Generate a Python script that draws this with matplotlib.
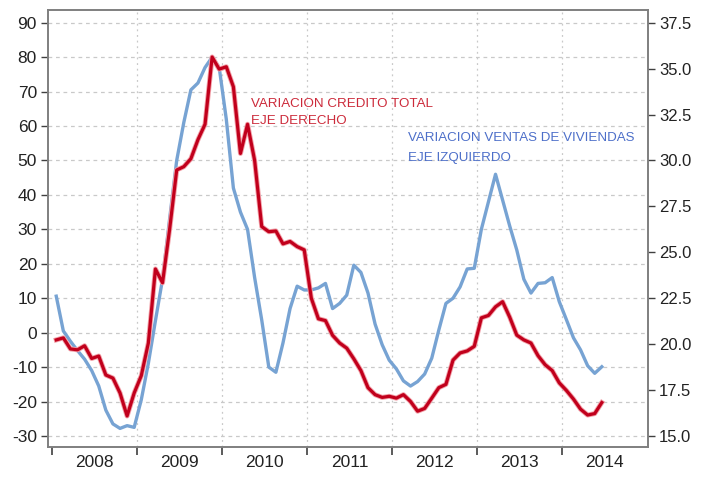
import numpy as np
import matplotlib
matplotlib.use("Agg")
import matplotlib.pyplot as plt
import matplotlib.patheffects as pe

plt.rcParams['font.family'] = ['Liberation Sans', 'DejaVu Sans']

# monthly data, first point early 2008
n_months = 78
ventas = [10.6, 0.5, -2.5, -5.2, -7.7, -11.0, -15.5, -22.5, -26.5, -27.8,
          -27.0, -27.5, -19.5, -8.9, 3.5, 15.5, 33.0, 50.0, 61.0, 70.5,
          72.5, 77.0, 80.0, 77.0, 62.0, 42.0, 35.0, 30.0, 16.0, 3.7,
          -10.0, -11.5, -3.0, 7.0, 13.5, 12.4, 12.4, 13.0, 14.3, 7.0,
          8.5, 10.9, 19.6, 17.5, 11.5, 2.5, -3.5, -8.0, -10.5, -14.0,
          -15.5, -14.2, -12.0, -7.4, 0.8, 8.5, 10.0, 13.3, 18.5, 18.7,
          30.0, 38.0, 46.0, 38.5, 31.0, 24.0, 15.5, 11.5, 14.3, 14.5,
          16.0, 9.0, 3.8, -1.5, -5.0, -9.6, -11.8, -9.9]
credito = [20.23, 20.34, 19.74, 19.69, 19.91, 19.22, 19.35, 18.32, 18.15, 17.34,
           16.09, 17.34, 18.28, 20.06, 24.09, 23.34, 26.25, 29.48, 29.66, 30.09,
           31.13, 31.97, 35.63, 34.97, 35.10, 34.01, 30.38, 31.97, 30.00, 26.40,
           26.12, 26.16, 25.46, 25.59, 25.31, 25.13, 22.50, 21.38, 21.28, 20.48,
           20.06, 19.78, 19.20, 18.56, 17.63, 17.25, 17.10, 17.16, 17.06, 17.25,
           16.88, 16.35, 16.50, 17.06, 17.63, 17.81, 19.13, 19.52, 19.63, 19.88,
           21.43, 21.56, 22.03, 22.31, 21.47, 20.49, 20.23, 20.06, 19.37, 18.88,
           18.56, 17.89, 17.48, 17.01, 16.46, 16.14, 16.22, 16.82]
years = [2008, 2009, 2010, 2011, 2012, 2013, 2014]
left_ticks = [-30, -20, -10, 0, 10, 20, 30, 40, 50, 60, 70, 80, 90]
right_ticks = [15.0, 17.5, 20.0, 22.5, 25.0, 27.5, 30.0, 32.5, 35.0, 37.5]

x = 2008 + (np.arange(n_months) + 0.6) / 12.0

blue = '#77a3d3'
red = '#c1001c'
frame = '#7f7f7f'

fig = plt.figure(figsize=(7.13, 4.78), dpi=100)
ax = fig.add_axes([48/713, 1-447/478, 600/713, 437/478])
ax2 = ax.twinx()

ax.set_xlim(2007.953, 2015.01)
ax.set_ylim(-33.2, 93.7)
ax2.set_ylim(14.4, 38.19)

# grid
for v in left_ticks:
    ax.axhline(v, color='#c9c9c9', lw=0.9, ls=(0, (3, 3)), zorder=0)
for yr in years[1:]:
    ax.axvline(yr, color='#c9c9c9', lw=0.9, ls=(0, (1.5, 3)), zorder=0)

ax.plot(x, ventas, color=blue, lw=2.4, solid_joinstyle='round', zorder=3)
ax2.plot(x, credito, color=red, lw=2.3, solid_joinstyle='round',
         path_effects=[pe.Stroke(linewidth=3.6, foreground='#f2a0a8'), pe.Normal()])

ax.set_yticks(left_ticks)
ax.set_yticklabels([str(v) for v in left_ticks])
ax2.set_yticks(right_ticks)
ax2.set_yticklabels(['%.1f' % v for v in right_ticks])

ax.set_xticks(years)
ax.set_xticklabels([])
ax.set_xticks([yr + 0.5 for yr in years], minor=True)
ax.set_xticklabels([str(yr) for yr in years], minor=True)
ax.tick_params(axis='x', which='major', length=6, width=1.2, color='#404040', direction='out')
ax.tick_params(axis='x', which='minor', length=0, labelsize=12.5, pad=6, labelcolor='#222222')
ax.tick_params(axis='y', length=5, width=1, color='#404040', labelsize=12.5, pad=3, labelcolor='#222222')
ax2.tick_params(axis='y', length=5, width=1, color='#404040', labelsize=12, pad=3, labelcolor='#222222')

for a in (ax, ax2):
    for s in a.spines.values():
        s.set_color(frame)
        s.set_linewidth(1.2)

ax.text(2010.34, 65.5, 'VARIACION CREDITO TOTAL', color='#cc2a3a', fontsize=9.6, va='baseline')
ax.text(2010.34, 60.6, 'EJE DERECHO', color='#cc2a3a', fontsize=9.6, va='baseline')
ax.text(2012.19, 55.7, 'VARIACION VENTAS DE VIVIENDAS', color='#4d6fc9', fontsize=9.6, va='baseline')
ax.text(2012.19, 49.9, 'EJE IZQUIERDO', color='#4d6fc9', fontsize=9.6, va='baseline')

fig.savefig('out.png', dpi=100)
